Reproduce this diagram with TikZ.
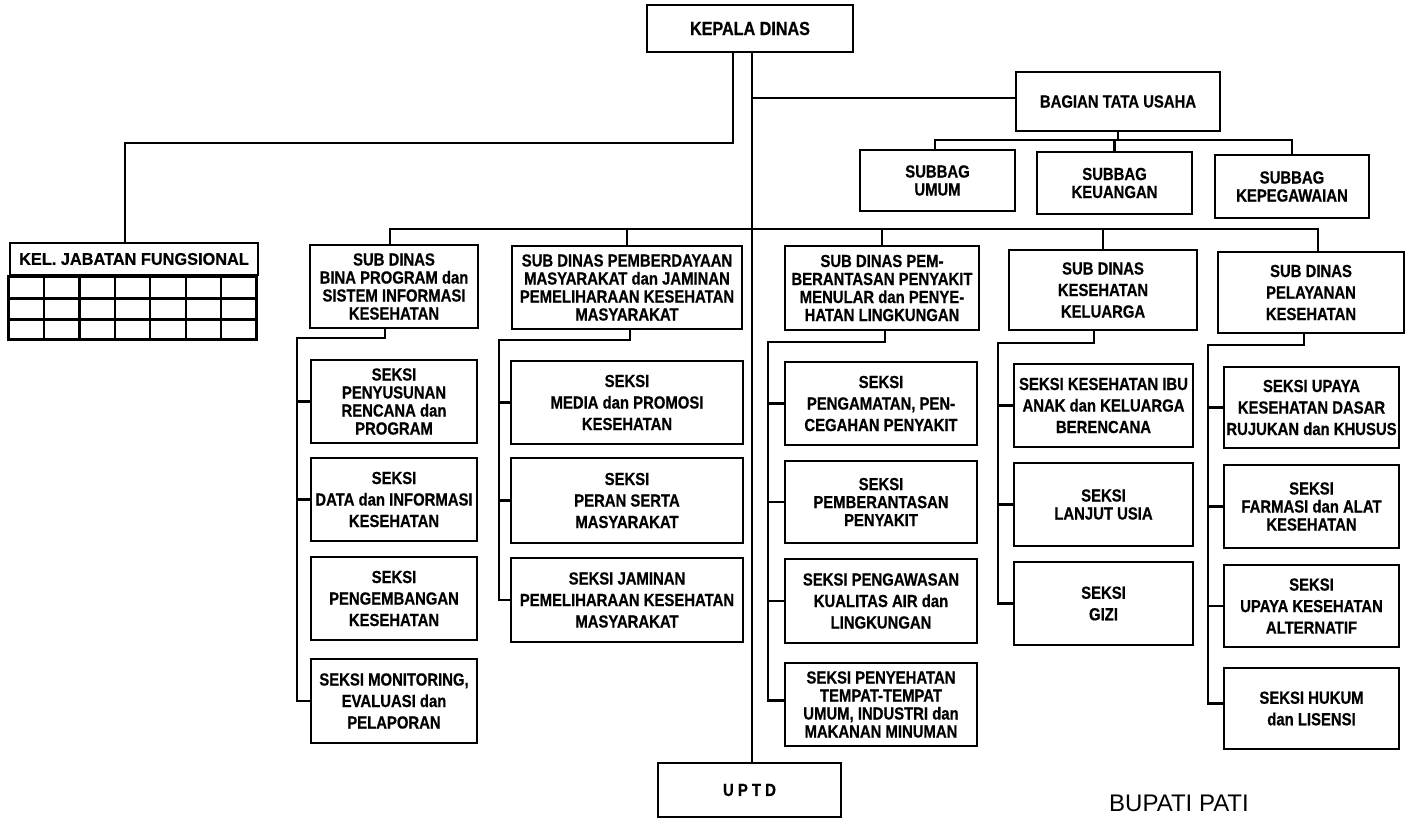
\documentclass[tikz,border=0pt]{standalone}
\usepackage{fontspec}
\setmainfont{Liberation Sans}
\newfontfamily\cond[FakeStretch=0.85, UprightFont={* Bold}, FakeBold=0.6]{Liberation Sans}
\newfontfamily\condw[FakeStretch=0.96, UprightFont={* Bold}, FakeBold=0.6]{Liberation Sans}
\begin{document}
\begin{tikzpicture}[x=1pt,y=-1pt,
  box/.style={draw, line width=2.9pt, inner sep=0pt, align=center,
    font=\cond\fontsize{17.5}{21.5}\selectfont},
  tight/.style={font=\cond\fontsize{17.5}{18}\selectfont},
  conn/.style={line width=2.2pt, line cap=rect},
  gridline/.style={line width=2.2pt}]
\useasboundingbox (0,0) rectangle (1407,820);
\fill[white] (0,0) rectangle (1407,820);

% top level
\node[box, minimum width=206pt, minimum height=47pt, font=\cond\fontsize{19}{20}\selectfont] (kepala) at (750,28.5) {KEPALA DINAS};
\node[box, minimum width=204pt, minimum height=59pt] (btu) at (1118,101.5) {BAGIAN TATA USAHA};
\node[box, tight, minimum width=155pt, minimum height=61pt] (umum) at (937.5,180.5) {SUBBAG\\UMUM};
\node[box, tight, minimum width=155pt, minimum height=62pt] (keu) at (1114.5,183) {SUBBAG\\KEUANGAN};
\node[box, tight, minimum width=154pt, minimum height=63pt] (kepeg) at (1292,186.5) {SUBBAG\\KEPEGAWAIAN};

% kel. jabatan fungsional
\node[box, minimum width=248pt, minimum height=32pt, font=\condw\fontsize{17}{18}\selectfont] (kel) at (134,259) {KEL. JABATAN FUNGSIONAL};
\draw[line width=2.9pt] (kel.south west) rectangle ++(248,63);
\foreach \r in {22,43} \draw[gridline] ([yshift=-\r pt]kel.south west) -- ++(248,0);
\foreach \k in {1,...,6} \draw[gridline] ([xshift=\k*35.43pt]kel.south west) -- ++(0,63);

% sub dinas
\node[box, tight, minimum width=168pt, minimum height=83pt] (sd1) at (394,286.5) {SUB DINAS\\BINA PROGRAM dan\\SISTEM INFORMASI\\KESEHATAN};
\node[box, tight, minimum width=230pt, minimum height=83pt] (sd2) at (627,287.5) {SUB DINAS PEMBERDAYAAN\\MASYARAKAT dan JAMINAN\\PEMELIHARAAN KESEHATAN\\MASYARAKAT};
\node[box, tight, minimum width=194pt, minimum height=84pt] (sd3) at (882,288) {SUB DINAS PEM-\\BERANTASAN PENYAKIT\\MENULAR dan PENYE-\\HATAN LINGKUNGAN};
\node[box, minimum width=188pt, minimum height=80pt] (sd4) at (1103,290) {SUB DINAS\\KESEHATAN\\KELUARGA};
\node[box, minimum width=186pt, minimum height=81pt] (sd5) at (1311,292.5) {SUB DINAS\\PELAYANAN\\KESEHATAN};

% column 1
\node[box, tight, minimum width=166pt, minimum height=83pt] (s1a) at (394,401.5) {SEKSI\\PENYUSUNAN\\RENCANA dan\\PROGRAM};
\node[box, minimum width=166pt, minimum height=83pt] (s1b) at (394,499.5) {SEKSI\\DATA dan INFORMASI\\KESEHATAN};
\node[box, minimum width=166pt, minimum height=83pt] (s1c) at (394,598.5) {SEKSI\\PENGEMBANGAN\\KESEHATAN};
\node[box, minimum width=166pt, minimum height=84pt] (s1d) at (394,701) {SEKSI MONITORING,\\EVALUASI dan\\PELAPORAN};

% column 2
\node[box, minimum width=232pt, minimum height=83pt] (s2a) at (627,402.5) {SEKSI\\MEDIA dan PROMOSI\\KESEHATAN};
\node[box, minimum width=232pt, minimum height=85pt] (s2b) at (627,500.5) {SEKSI\\PERAN SERTA\\MASYARAKAT};
\node[box, minimum width=232pt, minimum height=84pt] (s2c) at (627,600) {SEKSI JAMINAN\\PEMELIHARAAN KESEHATAN\\MASYARAKAT};

% column 3
\node[box, minimum width=192pt, minimum height=83pt] (s3a) at (881,403.5) {SEKSI\\PENGAMATAN, PEN-\\CEGAHAN PENYAKIT};
\node[box, tight, minimum width=192pt, minimum height=82pt] (s3b) at (881,502) {SEKSI\\PEMBERANTASAN\\PENYAKIT};
\node[box, minimum width=192pt, minimum height=84pt] (s3c) at (881,601) {SEKSI PENGAWASAN\\KUALITAS AIR dan\\LINGKUNGAN};
\node[box, tight, minimum width=192pt, minimum height=83pt] (s3d) at (881,704.5) {SEKSI PENYEHATAN\\TEMPAT-TEMPAT\\UMUM, INDUSTRI dan\\MAKANAN MINUMAN};

% column 4
\node[box, minimum width=179pt, minimum height=83pt] (s4a) at (1103.5,405.5) {SEKSI KESEHATAN IBU\\ANAK dan KELUARGA\\BERENCANA};
\node[box, tight, minimum width=179pt, minimum height=83pt] (s4b) at (1103.5,504.5) {SEKSI\\LANJUT USIA};
\node[box, minimum width=179pt, minimum height=83pt] (s4c) at (1103.5,603.5) {SEKSI\\GIZI};

% column 5
\node[box, minimum width=175pt, minimum height=81pt] (s5a) at (1311.5,407.5) {SEKSI UPAYA\\KESEHATAN DASAR\\RUJUKAN dan KHUSUS};
\node[box, tight, minimum width=175pt, minimum height=83pt] (s5b) at (1311.5,506.5) {SEKSI\\FARMASI dan ALAT\\KESEHATAN};
\node[box, minimum width=175pt, minimum height=82pt] (s5c) at (1311.5,606) {SEKSI\\UPAYA KESEHATAN\\ALTERNATIF};
\node[box, minimum width=175pt, minimum height=81pt] (s5d) at (1311.5,708.5) {SEKSI HUKUM\\dan LISENSI};

% UPTD and label
\node[box, minimum width=183pt, minimum height=54pt] (uptd) at (749.5,790) {U P T D};
\node[font=\fontsize{24}{26}\selectfont, inner sep=0pt] (bupati) at (1179,803) {BUPATI PATI};

% ---- connectors ----
\coordinate (mx) at (752,0);
\coordinate (lx) at (733,0);
\coordinate (lbus) at (0,143);
\coordinate (bus) at (0,229);
\coordinate (sbus) at (0,140);

\draw[conn] (kepala.south -| mx) -- (uptd.north -| mx);
\draw[conn] (kepala.south -| lx) -- (lx |- lbus) -| ([xshift=-9pt]kel.north);
\draw[conn] (mx |- btu.west) ++(0,-3.5) -- ([yshift=3.5pt]btu.west);

\draw[conn] (btu.south) -- (btu.south |- sbus);
\coordinate (umumstub) at ([xshift=-2.5pt]umum.north);
\draw[conn] (umumstub) |- (sbus -| kepeg.north) -- (kepeg.north);
\draw[conn] (keu.north) -- (keu.north |- sbus);

\coordinate (sd1stub) at ([xshift=-4pt]sd1.north);
\coordinate (sd5stub) at ([xshift=7pt]sd5.north);
\draw[conn] (sd1stub) |- (bus -| sd5stub) -- (sd5stub);
\draw[conn] (sd2.north) -- (sd2.north |- bus);
\draw[conn] (sd3.north) -- (sd3.north |- bus);
\draw[conn] (sd4.north) -- (sd4.north |- bus);

% column spines
\coordinate (c1) at (297,338);
\coordinate (c2) at (499,340);
\coordinate (c3) at (768,342);
\coordinate (c4) at (998,343);
\coordinate (c5) at (1208,345);

\draw[conn] ([xshift=-9pt]sd1.south) |- (c1) |- (s1d.west);
\draw[conn] (s1a.west) -- (s1a.west -| c1);
\draw[conn] (s1b.west) -- (s1b.west -| c1);

\draw[conn] ([xshift=3pt]sd2.south) |- (c2) |- (s2c.west);
\draw[conn] (s2a.west) -- (s2a.west -| c2);
\draw[conn] (s2b.west) -- (s2b.west -| c2);

\draw[conn] ([xshift=3pt]sd3.south) |- (c3) |- ([yshift=4pt]s3d.west);
\draw[conn] (s3a.west) -- (s3a.west -| c3);
\draw[conn] (s3b.west) -- (s3b.west -| c3);
\draw[conn] (s3c.west) -- (s3c.west -| c3);

\draw[conn] ([xshift=-9pt]sd4.south) |- (c4) |- (s4c.west);
\draw[conn] (s4a.west) -- (s4a.west -| c4);
\draw[conn] (s4b.west) -- (s4b.west -| c4);

\draw[conn] ([xshift=-7pt]sd5.south) |- (c5) |- ([yshift=5pt]s5d.west);
\draw[conn] (s5a.west) -- (s5a.west -| c5);
\draw[conn] (s5b.west) -- (s5b.west -| c5);
\draw[conn] (s5c.west) -- (s5c.west -| c5);
\end{tikzpicture}
\end{document}
